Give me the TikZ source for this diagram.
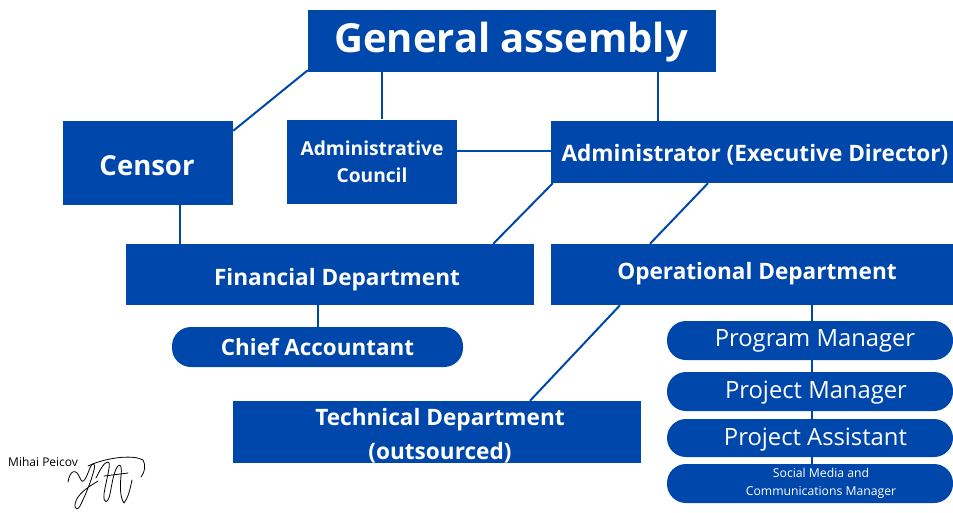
\documentclass[tikz,border=0pt]{standalone}
\usepackage{fontspec}
\setmainfont{Open Sans}
\definecolor{cobalt}{RGB}{0,71,171}
\tikzset{
  box/.style={fill=cobalt, draw=none, text=white, align=center, inner sep=0pt, font=\bfseries},
  pill/.style={box, rounded corners=19pt},
  txt/.style={text=white, align=center, inner sep=0pt},
  link/.style={draw=cobalt, line width=2pt},
}
\begin{document}
\begin{tikzpicture}[x=1pt,y=-1pt]
\useasboundingbox (0,0) rectangle (953,512);
% boxes
\node[box, minimum width=408pt, minimum height=62pt] (ga) at (512,41) {};
\node[txt, font=\bfseries\fontsize{40}{44}\selectfont] (gat) at (511,42) {General assembly};
\node[box, minimum width=170pt, minimum height=84pt] (censor) at (148,163) {};
\node[txt, font=\bfseries\fontsize{27.5}{30}\selectfont] (censort) at (147,166) {Censor};
\node[box, minimum width=170pt, minimum height=84pt, font=\bfseries\fontsize{19.2}{27}\selectfont] (ac) at (372,161.5) {Administrative\\Council};
\node[box, minimum width=402pt, minimum height=62pt] (adm) at (752,152) {};
\node[txt, font=\bfseries\fontsize{22.6}{26}\selectfont] (admt) at (755,155) {Administrator (Executive Director)};
\node[box, minimum width=408pt, minimum height=61pt] (fin) at (330,274.5) {};
\node[txt, font=\bfseries\fontsize{22.6}{26}\selectfont] (fint) at (337,280) {Financial Department};
\node[box, minimum width=402pt, minimum height=61pt] (op) at (752,274.5) {};
\node[txt, font=\bfseries\fontsize{22.6}{26}\selectfont] (opt) at (757,274) {Operational Department};
\node[pill, minimum width=291pt, minimum height=40pt, font=\bfseries\fontsize{22.4}{26}\selectfont] (ca) at (317.5,347) {Chief Accountant};
\node[box, minimum width=408pt, minimum height=62pt] (tech) at (437,432) {};
\node[txt, font=\bfseries\fontsize{22.6}{34}\selectfont] (techt) at (440,436) {Technical Department\\(outsourced)};
% right stack
\node[pill, minimum width=286pt, minimum height=39pt] (pm) at (810,340.5) {};
\node[txt, font=\fontsize{23.8}{28}\selectfont] (pmt) at (815,341) {Program Manager};
\node[pill, minimum width=286pt, minimum height=39pt] (pjm) at (810,391.5) {};
\node[txt, font=\fontsize{23.8}{28}\selectfont] (pjmt) at (816,393) {Project Manager};
\node[pill, minimum width=286pt, minimum height=38pt] (pa) at (810,438) {};
\node[txt, font=\fontsize{23.8}{28}\selectfont] (pat) at (815.5,440) {Project Assistant};
\node[pill, minimum width=286pt, minimum height=39pt] (sm) at (810,483.5) {};
\node[txt, font=\fontsize{12.2}{18}\selectfont] (smt) at (821,483) {Social Media and\\Communications Manager};
% connectors
\draw[link] ([shift={(0,-2)}]ga.south west) -- ([shift={(0,10)}]censor.north east);
\draw[link] (ga.south -| 382,0) -- (ac.north -| 382,0);
\draw[link] (ga.south -| 658,0) -- (adm.north -| 658,0);
\draw[link] ([shift={(0,-10.5)}]ac.east) -- ([shift={(0,-10.5)}]ac.east -| adm.west);
\draw[link] (censor.south -| 180,0) -- (fin.north -| 180,0);
\draw[link] ([shift={(2,0)}]adm.south west) -- ([shift={(-41,0)}]fin.north east);
\draw[link] (adm.south -| 708,0) -- (op.north -| 650,0);
\draw[link] (fin.south -| 318,0) -- (ca.north -| 318,0);
\draw[link] (op.south -| 620,0) -- (tech.north -| 530,0);
\draw[link] (op.south -| 812,0) -- (pm.north -| 812,0);
\draw[link] (pm.south -| 812,0) -- (pjm.north -| 812,0);
\draw[link] (pjm.south -| 812,0) -- (pa.north -| 812,0);
\draw[link] (pa.south -| 812,0) -- (sm.north -| 812,0);
% signature
\node[anchor=west, inner sep=0pt, font=\fontsize{12}{14}\selectfont] (sig) at (8,462) {Mihai Peicov};
\begin{scope}[black, line width=0.8pt, line cap=round, line join=round]
\draw (68,482) .. controls (70,470) and (76,468) .. (80,478)
  .. controls (83,486) and (86,478) .. (90,468)
  .. controls (92,462) and (96,462) .. (94,470)
  .. controls (91,482) and (85,496) .. (80,506)
  .. controls (76,513) and (72,506) .. (78,497)
  .. controls (84,489) and (92,485) .. (98,481);
\draw (96,478) .. controls (100,470) and (104,462) .. (108,462)
  .. controls (112,462) and (106,480) .. (104,494)
  .. controls (103,504) and (108,504) .. (110,494)
  .. controls (112,484) and (114,470) .. (118,466)
  .. controls (121,463) and (122,468) .. (121,476)
  .. controls (120,486) and (120,498) .. (124,503)
  .. controls (128,498) and (130,490) .. (132,480);
\draw (88,466) .. controls (105,458) and (132,454) .. (143,460)
  .. controls (146,465) and (145,472) .. (141,477);
\draw (104,476) -- (128,473);
\end{scope}
\end{tikzpicture}
\end{document}
